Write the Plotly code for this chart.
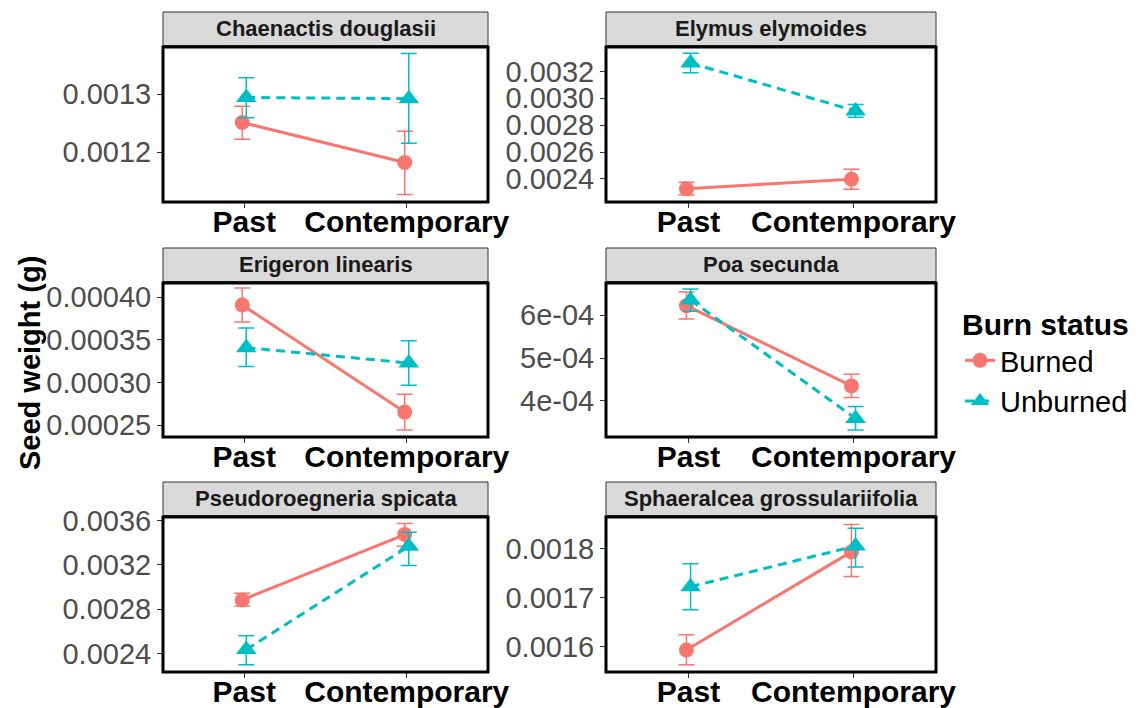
import plotly.graph_objects as go

# ---------------- data ----------------
species = ["Chaenactis douglasii", "Elymus elymoides", "Erigeron linearis",
           "Poa secunda", "Pseudoroegneria spicata", "Sphaeralcea grossulariifolia"]
periods = ["Past", "Contemporary"]
statuses = ["Burned", "Unburned"]

# [Past, Contemporary] per species
burned_mean = [[0.001251, 0.001182], [0.002328, 0.002398], [0.000391, 0.0002655],
               [0.000622, 0.000435], [0.002884, 0.003473], [0.001593, 0.001793]]
burned_low = [[0.001222, 0.001127], [0.002281, 0.002323], [0.000371, 0.0002445],
              [0.000591, 0.000408], [0.002830, 0.003368], [0.001563, 0.001743]]
burned_high = [[0.001279, 0.001236], [0.002375, 0.002472], [0.000411, 0.0002864],
               [0.000654, 0.000462], [0.002944, 0.003572], [0.001624, 0.001849]]

unburned_mean = [[0.001294, 0.001292], [0.003262, 0.002906], [0.000341, 0.000323],
                 [0.000635, 0.000359], [0.002437, 0.003368], [0.001722, 0.001805]]
unburned_low = [[0.001259, 0.001215], [0.003190, 0.002859], [0.000319, 0.000297],
                [0.000609, 0.000332], [0.002301, 0.003194], [0.001675, 0.001762]]
unburned_high = [[0.001328, 0.001370], [0.003334, 0.002953], [0.000364, 0.000349],
                 [0.000661, 0.000387], [0.002562, 0.003494], [0.001769, 0.001841]]

# y-axis ticks and labels per panel
tick_vals = [[0.0012, 0.0013],
             [0.0024, 0.0026, 0.0028, 0.0030, 0.0032],
             [0.00025, 0.00030, 0.00035, 0.00040],
             [0.0004, 0.0005, 0.0006],
             [0.0024, 0.0028, 0.0032, 0.0036],
             [0.0016, 0.0017, 0.0018]]
tick_text = [["0.0012", "0.0013"],
             ["0.0024", "0.0026", "0.0028", "0.0030", "0.0032"],
             ["0.00025", "0.00030", "0.00035", "0.00040"],
             ["4e-04", "5e-04", "6e-04"],
             ["0.0024", "0.0028", "0.0032", "0.0036"],
             ["0.0016", "0.0017", "0.0018"]]
y_ranges = [[0.001114, 0.001381], [0.002229, 0.003381], [0.0002363, 0.0004168],
            [0.0003159, 0.0006748], [0.002235, 0.003631], [0.001548, 0.0018642]]

# ---------------- style ----------------
W, H = 1144, 708
FONT = "Liberation Sans, Arial, Helvetica, sans-serif"
colors = {"Burned": "#F8766D", "Unburned": "#00BFC4"}
symbols = {"Burned": "circle", "Unburned": "triangle-up"}
msize = {"Burned": 15, "Unburned": 18}
dashes = {"Burned": "solid", "Unburned": "9px,6px"}
dodge = {"Burned": -0.0125, "Unburned": 0.0125}

col_px = [(163, 488), (606, 936)]
row_px = [(47, 202), (283, 437), (517, 672)]
strip_h = 35

fig = go.Figure()
series = {"Burned": (burned_mean, burned_low, burned_high),
          "Unburned": (unburned_mean, unburned_low, unburned_high)}

layout_axes = {}
shapes = []
annotations = []

for i, sp in enumerate(species):
    r, c = divmod(i, 2)
    sfx = "" if i == 0 else str(i + 1)
    xa, ya = "x" + sfx, "y" + sfx
    x0p, x1p = col_px[c]
    y0p, y1p = row_px[r]
    layout_axes["xaxis" + sfx] = dict(
        domain=[x0p / W, x1p / W], anchor=ya, range=[0.5, 2.5], automargin=False,
        tickvals=[1, 2], ticktext=periods, ticks="outside", ticklen=5,
        ticklabelstandoff=-12,
        tickcolor="#333333", showgrid=False, zeroline=False, showline=False,
        tickfont=dict(family=FONT, size=30, color="black", weight="bold"))
    layout_axes["yaxis" + sfx] = dict(
        domain=[1 - y1p / H, 1 - y0p / H], anchor=xa, range=y_ranges[i],
        automargin=False,
        tickvals=tick_vals[i], ticktext=tick_text[i], ticks="outside", ticklen=5,
        tickcolor="#333333", showgrid=False, zeroline=False, showline=False,
        tickfont=dict(family=FONT, size=29, color="#4D4D4D"))
    for st in statuses:
        m, lo, hi = series[st]
        fig.add_trace(go.Scatter(
            x=[k + 1 + dodge[st] for k in range(2)], y=m[i],
            mode="lines+markers", name=st, legendgroup=st, showlegend=(i == 0),
            line=dict(color=colors[st], width=3, dash=dashes[st]),
            marker=dict(symbol=symbols[st], size=msize[st], color=colors[st]),
            error_y=dict(type="data", symmetric=False,
                         array=[hi[i][k] - m[i][k] for k in range(2)],
                         arrayminus=[m[i][k] - lo[i][k] for k in range(2)],
                         color=colors[st], thickness=1.5, width=8),
            xaxis=xa, yaxis=ya))
    ph = y1p - y0p
    shapes.append(dict(type="rect", xref=xa + " domain", yref=ya + " domain",
                       x0=0, x1=1, y0=1 + 1.5 / ph, y1=1 + strip_h / ph,
                       fillcolor="#D9D9D9", line=dict(color="#333333", width=1),
                       layer="below"))
    shapes.append(dict(type="rect", xref=xa + " domain", yref=ya + " domain",
                       x0=0, x1=1, y0=0, y1=1, line=dict(color="black", width=3),
                       fillcolor="rgba(0,0,0,0)"))
    annotations.append(dict(xref=xa + " domain", yref=ya + " domain", x=0.5,
                            y=1 + (strip_h / 2 + 1) / ph, text="<b>%s</b>" % sp,
                            showarrow=False, xanchor="center", yanchor="middle",
                            font=dict(family=FONT, size=22, color="#1A1A1A")))

annotations.append(dict(xref="paper", yref="paper", x=30 / W, y=1 - 363 / H,
                        text="<b>Seed weight (g)</b>", textangle=-90, showarrow=False,
                        xanchor="center", yanchor="middle",
                        font=dict(family=FONT, size=29, color="black")))

fig.update_layout(
    width=W, height=H, margin=dict(l=0, r=0, t=0, b=0),
    paper_bgcolor="white", plot_bgcolor="white",
    shapes=shapes, annotations=annotations,
    legend=dict(x=960 / W, y=1 - 296 / H, xanchor="left", yanchor="top",
                title=dict(text="<b>Burn status</b>",
                           font=dict(family=FONT, size=30, color="black")),
                font=dict(family=FONT, size=29, color="black"),
                itemwidth=30, tracegroupgap=0, bgcolor="rgba(0,0,0,0)"),
    **layout_axes)

fig.write_html("out.html")
